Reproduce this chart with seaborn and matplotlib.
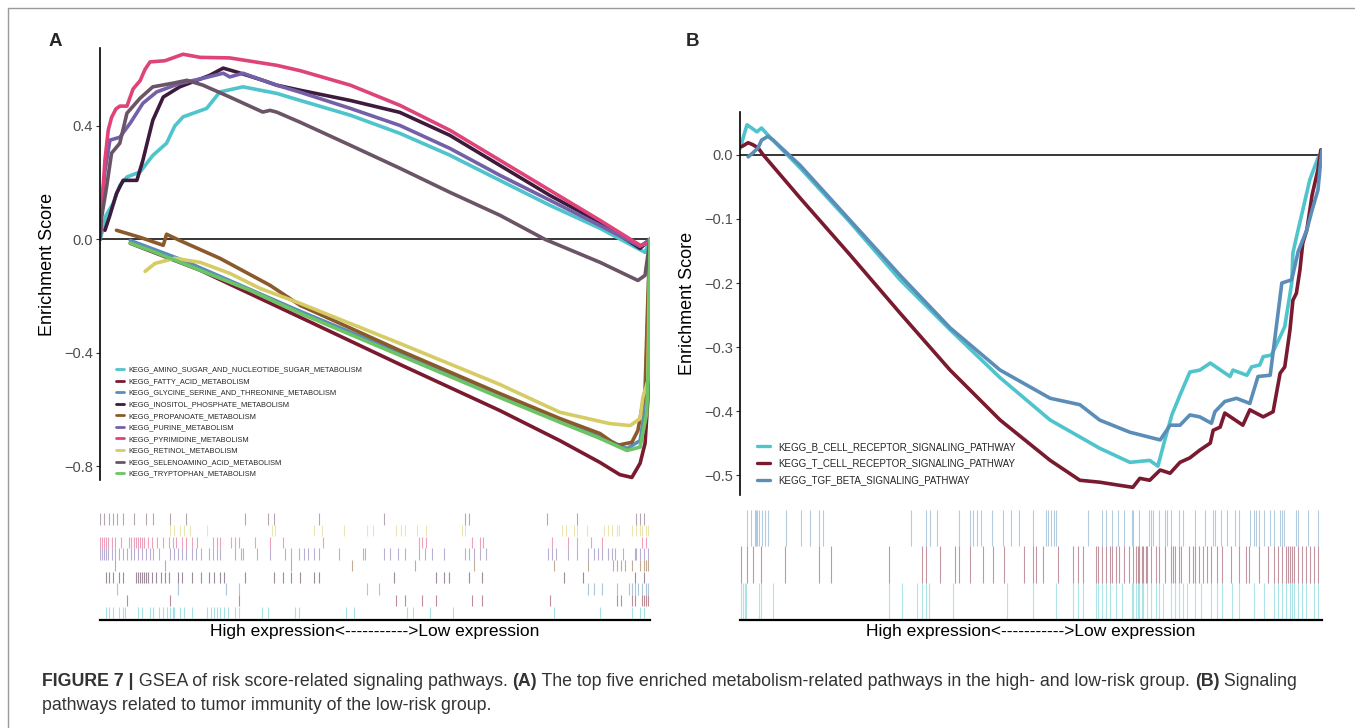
import numpy as np
import pandas as pd
import matplotlib
matplotlib.use("Agg")
import matplotlib.pyplot as plt
from matplotlib.lines import Line2D
import seaborn as sns

sns.set_theme(style="white")
plt.rcParams['font.family'] = ['Liberation Sans', 'DejaVu Sans']

# ---------------- Panel A data ----------------
A_NAMES = ["KEGG_AMINO_SUGAR_AND_NUCLEOTIDE_SUGAR_METABOLISM", "KEGG_FATTY_ACID_METABOLISM",
           "KEGG_GLYCINE_SERINE_AND_THREONINE_METABOLISM", "KEGG_INOSITOL_PHOSPHATE_METABOLISM",
           "KEGG_PROPANOATE_METABOLISM", "KEGG_PURINE_METABOLISM", "KEGG_PYRIMIDINE_METABOLISM",
           "KEGG_RETINOL_METABOLISM", "KEGG_SELENOAMINO_ACID_METABOLISM", "KEGG_TRYPTOPHAN_METABOLISM"]
A_COLORS = ["#4FC4CC", "#7A1A30", "#5A8DB8", "#3E1A3C", "#8B5A2B",
            "#7360A8", "#DE4479", "#D6CC66", "#6B5466", "#6CC466"]

amino_rank = [0, 3, 11, 24, 36, 49, 73, 96, 121, 136, 151, 194, 218, 260, 321, 364, 455, 545, 636, 727, 818, 909, 991, 1000]
amino_es = [0.0, 0.02, 0.085, 0.127, 0.19, 0.22, 0.238, 0.296, 0.339, 0.40, 0.432, 0.462, 0.52, 0.538, 0.515, 0.49, 0.438, 0.374, 0.297, 0.208, 0.12, 0.039, -0.046, 0.0]
fatty_rank = [55, 182, 364, 545, 727, 836, 909, 945, 967, 982, 991, 996, 1000]
fatty_es = [-0.014, -0.109, -0.275, -0.441, -0.604, -0.71, -0.787, -0.83, -0.84, -0.79, -0.72, -0.568, 0.0]
glycine_rank = [55, 151, 364, 545, 727, 836, 909, 958, 982, 991, 1000]
glycine_es = [-0.004, -0.074, -0.254, -0.399, -0.547, -0.635, -0.695, -0.738, -0.71, -0.6, 0.0]
inositol_rank = [9, 18, 30, 42, 67, 78, 87, 96, 115, 145, 176, 200, 224, 249, 296, 321, 364, 455, 545, 636, 727, 818, 909, 982, 1000]
inositol_es = [0.032, 0.085, 0.162, 0.208, 0.208, 0.279, 0.35, 0.42, 0.502, 0.538, 0.561, 0.579, 0.604, 0.59, 0.561, 0.544, 0.526, 0.49, 0.448, 0.367, 0.261, 0.155, 0.06, -0.032, 0.0]
propanoate_rank = [30, 73, 115, 121, 145, 218, 309, 364, 545, 727, 836, 909, 940, 967, 978, 991, 996, 1000]
propanoate_es = [0.032, 0.007, -0.021, 0.018, -0.004, -0.067, -0.162, -0.233, -0.392, -0.544, -0.632, -0.685, -0.727, -0.716, -0.674, -0.533, -0.215, 0.0]
purine_rank = [0, 3, 9, 18, 36, 55, 78, 103, 145, 187, 224, 236, 260, 296, 321, 364, 455, 545, 636, 727, 818, 909, 982, 1000]
purine_es = [0.0, 0.127, 0.24, 0.35, 0.36, 0.41, 0.48, 0.52, 0.55, 0.568, 0.586, 0.573, 0.586, 0.561, 0.544, 0.519, 0.462, 0.402, 0.321, 0.226, 0.138, 0.049, -0.025, 0.0]
pyrimidine_rank = [0, 3, 9, 15, 21, 29, 36, 49, 60, 73, 82, 91, 118, 151, 182, 236, 321, 364, 455, 545, 636, 727, 818, 909, 982, 996, 1000]
pyrimidine_es = [0.0, 0.10, 0.28, 0.385, 0.43, 0.46, 0.47, 0.47, 0.53, 0.56, 0.60, 0.626, 0.63, 0.653, 0.642, 0.64, 0.614, 0.595, 0.544, 0.473, 0.385, 0.279, 0.173, 0.067, -0.021, -0.015, 0.0]
retinol_rank = [82, 100, 136, 182, 236, 291, 364, 545, 727, 836, 927, 964, 982, 987, 996, 1000]
retinol_es = [-0.113, -0.085, -0.067, -0.081, -0.12, -0.173, -0.226, -0.367, -0.512, -0.61, -0.65, -0.657, -0.632, -0.558, -0.5, 0.0]
seleno_rank = [0, 3, 12, 21, 36, 49, 73, 96, 133, 158, 187, 236, 296, 309, 321, 364, 455, 545, 636, 727, 809, 909, 978, 991, 1000]
seleno_es = [0.0, 0.079, 0.185, 0.304, 0.339, 0.445, 0.498, 0.538, 0.551, 0.561, 0.544, 0.502, 0.449, 0.455, 0.449, 0.413, 0.332, 0.251, 0.166, 0.085, 0.0, -0.081, -0.145, -0.127, 0.0]
tryptophan_rank = [55, 91, 151, 273, 364, 545, 727, 836, 909, 958, 982, 994, 998, 1000]
tryptophan_es = [-0.014, -0.039, -0.085, -0.18, -0.261, -0.409, -0.558, -0.645, -0.702, -0.745, -0.733, -0.614, -0.4, 0.0]

# gene-set hit positions (ranks), panel A
amino_hits = [10, 17, 24, 35, 42, 45, 69, 76, 90, 97, 108, 115, 121, 128, 132, 135, 146, 153, 167, 194, 201, 208, 212, 219, 226, 232, 246, 253, 295, 305, 354, 361, 448, 462, 559, 569, 600, 642, 826, 909, 968, 982, 989]
fatty_hits = [49, 128, 253, 538, 555, 586, 611, 677, 694, 819, 940, 947, 968, 972, 986, 989, 992, 996]
glycine_hits = [31, 142, 229, 253, 486, 507, 888, 899, 913, 940, 961, 968, 972, 979, 986, 992, 996]
inositol_hits = [10, 17, 24, 35, 42, 66, 69, 73, 76, 80, 83, 87, 94, 101, 111, 118, 125, 142, 149, 167, 184, 198, 208, 219, 226, 264, 316, 333, 347, 364, 389, 399, 534, 611, 625, 635, 670, 694, 843, 878, 972, 989]
propanoate_hits = [28, 118, 347, 458, 573, 680, 826, 888, 933, 940, 947, 954, 968, 982, 989, 992, 996]
purine_hits = [0, 3, 7, 10, 14, 21, 28, 35, 42, 49, 56, 62, 69, 76, 83, 90, 97, 108, 128, 135, 142, 149, 156, 167, 174, 184, 198, 205, 212, 219, 246, 257, 260, 285, 309, 337, 347, 361, 371, 378, 389, 399, 434, 479, 482, 517, 527, 541, 555, 580, 590, 604, 625, 663, 670, 680, 691, 701, 815, 822, 829, 850, 868, 888, 899, 906, 913, 923, 930, 937, 951, 972, 975, 982, 989, 996]
pyrimidine_hits = [0, 4, 7, 10, 14, 21, 28, 38, 52, 56, 62, 66, 69, 73, 76, 80, 87, 94, 104, 115, 125, 132, 139, 149, 156, 167, 177, 205, 212, 219, 239, 246, 253, 281, 309, 333, 406, 580, 586, 593, 677, 691, 697, 822, 850, 868, 892, 913, 986, 992]
retinol_hits = [128, 135, 146, 153, 163, 194, 312, 319, 389, 403, 444, 486, 496, 538, 548, 555, 576, 593, 659, 663, 840, 847, 861, 868, 885, 916, 923, 930, 940, 944, 968, 975, 982, 986, 992, 996]
seleno_hits = [0, 7, 16, 24, 31, 42, 62, 83, 97, 128, 156, 264, 305, 316, 399, 517, 663, 670, 812, 868, 975, 982, 989]

# ---------------- Panel B data ----------------
B_NAMES = ["KEGG_B_CELL_RECEPTOR_SIGNALING_PATHWAY", "KEGG_T_CELL_RECEPTOR_SIGNALING_PATHWAY",
           "KEGG_TGF_BETA_SIGNALING_PATHWAY"]
B_COLORS = ["#4FC4CC", "#7A1A30", "#5A8DB8"]

bcell_rank = [0, 3, 12, 20, 29, 37, 48, 103, 189, 275, 361, 447, 533, 618, 670, 704, 718, 730, 742, 756, 773, 790, 808, 842, 847, 871, 879, 893, 899, 913, 928, 936, 948, 950, 959, 979, 993, 1000]
bcell_es = [0.01, 0.019, 0.047, 0.042, 0.036, 0.042, 0.031, -0.02, -0.105, -0.195, -0.273, -0.348, -0.414, -0.458, -0.48, -0.477, -0.486, -0.445, -0.406, -0.375, -0.339, -0.336, -0.325, -0.346, -0.336, -0.344, -0.331, -0.328, -0.315, -0.3125, -0.284, -0.268, -0.2, -0.153, -0.117, -0.039, -0.005, 0.005]
tcell_rank = [3, 14, 22, 31, 40, 103, 189, 275, 361, 447, 533, 584, 618, 653, 675, 687, 704, 722, 739, 756, 773, 790, 808, 813, 825, 833, 864, 876, 899, 916, 928, 936, 945, 950, 956, 962, 967, 974, 983, 993, 998, 1000]
tcell_es = [0.013, 0.019, 0.016, 0.011, 0.0, -0.067, -0.156, -0.247, -0.336, -0.414, -0.477, -0.508, -0.511, -0.516, -0.519, -0.505, -0.508, -0.492, -0.497, -0.48, -0.473, -0.461, -0.45, -0.43, -0.425, -0.403, -0.422, -0.398, -0.409, -0.401, -0.341, -0.331, -0.273, -0.227, -0.216, -0.18, -0.1375, -0.117, -0.0625, -0.023, 0.008, 0.0]
tgf_rank = [14, 22, 31, 37, 48, 57, 103, 189, 275, 361, 447, 533, 584, 618, 670, 722, 739, 756, 773, 790, 810, 816, 833, 853, 876, 890, 911, 931, 948, 959, 974, 983, 993, 998, 1000]
tgf_es = [-0.003, 0.003, 0.011, 0.023, 0.029, 0.023, -0.016, -0.102, -0.188, -0.27, -0.336, -0.38, -0.39, -0.414, -0.433, -0.445, -0.422, -0.422, -0.406, -0.409, -0.419, -0.401, -0.385, -0.38, -0.388, -0.346, -0.344, -0.2, -0.195, -0.151, -0.117, -0.086, -0.055, -0.008, 0.008]

bcell_hits = [2, 5, 9, 11, 33, 36, 57, 256, 278, 304, 312, 319, 324, 366, 458, 503, 543, 573, 581, 590, 612, 615, 622, 629, 635, 646, 656, 673, 676, 680, 683, 686, 690, 693, 700, 707, 714, 720, 727, 741, 748, 755, 761, 768, 782, 792, 809, 819, 829, 846, 857, 884, 901, 918, 925, 932, 938, 945, 949, 952, 959, 966, 972, 986, 993]
tcell_hits = [2, 12, 22, 36, 77, 135, 157, 256, 312, 320, 343, 370, 377, 395, 417, 434, 454, 488, 504, 509, 520, 547, 573, 581, 590, 612, 615, 622, 629, 635, 639, 646, 652, 659, 669, 676, 680, 683, 686, 690, 693, 697, 700, 707, 714, 720, 731, 741, 744, 748, 755, 758, 772, 778, 782, 789, 795, 802, 809, 819, 829, 843, 857, 870, 874, 891, 908, 918, 925, 932, 938, 942, 945, 949, 952, 959, 966, 972, 979, 986, 993]
tgf_hits = [12, 19, 26, 28, 29, 33, 38, 43, 48, 79, 104, 120, 135, 143, 294, 320, 326, 338, 377, 395, 400, 407, 414, 433, 452, 465, 479, 503, 526, 530, 535, 540, 543, 598, 622, 629, 639, 649, 659, 673, 676, 686, 703, 707, 710, 720, 731, 734, 741, 755, 761, 782, 799, 812, 816, 826, 836, 850, 857, 877, 884, 887, 891, 901, 911, 918, 928, 932, 935, 955, 959, 976, 993]

RUG_LABEL = "High expression<----------->Low expression"
CAPTION_1 = [("FIGURE 7 |", True), (" GSEA of risk score-related signaling pathways. ", False), ("(A)", True),
             (" The top five enriched metabolism-related pathways in the high- and low-risk group. ", False),
             ("(B)", True), (" Signaling", False)]
CAPTION_2 = [("pathways related to tumor immunity of the low-risk group.", False)]

# ---------------- build frames ----------------
a_curves = [(amino_rank, amino_es), (fatty_rank, fatty_es), (glycine_rank, glycine_es),
            (inositol_rank, inositol_es), (propanoate_rank, propanoate_es), (purine_rank, purine_es),
            (pyrimidine_rank, pyrimidine_es), (retinol_rank, retinol_es), (seleno_rank, seleno_es),
            (tryptophan_rank, tryptophan_es)]
dfA = pd.concat([pd.DataFrame({"rank": r, "es": e, "pathway": n})
                 for (r, e), n in zip(a_curves, A_NAMES)], ignore_index=True)
b_curves = [(bcell_rank, bcell_es), (tcell_rank, tcell_es), (tgf_rank, tgf_es)]
dfB = pd.concat([pd.DataFrame({"rank": r, "es": e, "pathway": n})
                 for (r, e), n in zip(b_curves, B_NAMES)], ignore_index=True)

W, H = 1355, 728
fig = plt.figure(figsize=(W / 100, H / 100), dpi=100)
fig.patch.set_facecolor("white")


def px_axes(x0, y0, x1, y1):
    return fig.add_axes([x0 / W, 1 - y1 / H, (x1 - x0) / W, (y1 - y0) / H])


def style_main(ax, ylim, yticks):
    ax.set_xlim(0, 1000)
    ax.set_ylim(*ylim)
    ax.set_yticks(yticks)
    ax.set_xticks([])
    ax.set_xlabel("")
    ax.set_ylabel("Enrichment Score", fontsize=13, color="black", labelpad=6)
    for s in ["top", "right", "bottom"]:
        ax.spines[s].set_visible(False)
    ax.spines["left"].set_color("black")
    ax.spines["left"].set_linewidth(1.2)
    ax.tick_params(axis="y", left=True, length=3, width=0.8, color="#333333",
                   labelcolor="#4D4D4D", labelsize=10.5, pad=2)
    ax.axhline(0, color="black", lw=1.1, zorder=1)
    ax.set_facecolor("none")


def style_rug(ax, ylim):
    ax.set_xlim(0, 1000)
    ax.set_ylim(*ylim)
    ax.set_xticks([])
    ax.set_yticks([])
    for s in ["top", "right", "left"]:
        ax.spines[s].set_visible(False)
    ax.spines["bottom"].set_color("black")
    ax.spines["bottom"].set_linewidth(1.6)
    ax.set_xlabel(RUG_LABEL, fontsize=12.5, color="black", labelpad=3)
    ax.set_facecolor("none")


# ---------------- Panel A ----------------
axA = px_axes(100, 48, 650, 480)
sns.lineplot(data=dfA, x="rank", y="es", hue="pathway", hue_order=A_NAMES, palette=A_COLORS,
             estimator=None, sort=False, linewidth=2.6, ax=axA)
style_main(axA, (-0.849, 0.675), [-0.8, -0.4, 0.0, 0.4])
h, l = axA.get_legend_handles_labels()
for hh in h:
    hh.set_linewidth(2.0)
axA.legend(h, l, loc="upper left", bbox_to_anchor=(0.029, 0.263), frameon=False, fontsize=5.3,
           handlelength=1.1, handletextpad=0.55, labelspacing=0.6, borderpad=0, borderaxespad=0)

rugA = px_axes(100, 512, 650, 620)
a_hits = [amino_hits, fatty_hits, glycine_hits, inositol_hits, propanoate_hits,
          purine_hits, pyrimidine_hits, retinol_hits, seleno_hits]
for i, hits in enumerate(a_hits):
    rugA.vlines(hits, i + 0.02, i + 0.98, color=A_COLORS[i], alpha=0.5, lw=0.8)
style_rug(rugA, (-0.15, 9.1))

# ---------------- Panel B ----------------
axB = px_axes(740, 112, 1322, 495)
sns.lineplot(data=dfB, x="rank", y="es", hue="pathway", hue_order=B_NAMES, palette=B_COLORS,
             estimator=None, sort=False, linewidth=2.6, ax=axB)
style_main(axB, (-0.531, 0.067), [-0.5, -0.4, -0.3, -0.2, -0.1, 0.0])
h, l = axB.get_legend_handles_labels()
for hh in h:
    hh.set_linewidth(2.4)
axB.legend(h, l, loc="upper left", bbox_to_anchor=(0.029, 0.139), frameon=False, fontsize=7.0,
           handlelength=1.35, handletextpad=0.8, labelspacing=0.7, borderpad=0, borderaxespad=0)

rugB = px_axes(740, 510, 1322, 620)
b_hits = [bcell_hits, tcell_hits, tgf_hits]
for i, hits in enumerate(b_hits):
    rugB.vlines(hits, i, i + 1, color=B_COLORS[i], alpha=0.45, lw=0.8)
style_rug(rugB, (-0.02, 3.0))

# panel letters
fig.text(49 / W, 1 - 42 / H, "A", fontsize=13.5, fontweight="bold", va="center", ha="left")
fig.text(686 / W, 1 - 42 / H, "B", fontsize=13.5, fontweight="bold", va="center", ha="left")

# frame
fig.add_artist(Line2D([8 / W, 8 / W], [0, 1 - 8 / H], transform=fig.transFigure, color="#9A9A9A", lw=1.0))
fig.add_artist(Line2D([8 / W, 1], [1 - 8 / H, 1 - 8 / H], transform=fig.transFigure, color="#9A9A9A", lw=1.0))

# caption with mixed weights
renderer = fig.canvas.get_renderer()


def draw_pieces(pieces, x_px, y_px, size=12.8):
    x = x_px
    for txt, bold in pieces:
        t = fig.text(x / W, 1 - y_px / H, txt, fontsize=size, fontweight="bold" if bold else "normal",
                     color="#333333", va="center", ha="left")
        bb = t.get_window_extent(renderer=renderer)
        x += bb.width


draw_pieces(CAPTION_1, 42, 681)
draw_pieces(CAPTION_2, 42, 706)

fig.savefig("out.png", dpi=100, facecolor="white")
